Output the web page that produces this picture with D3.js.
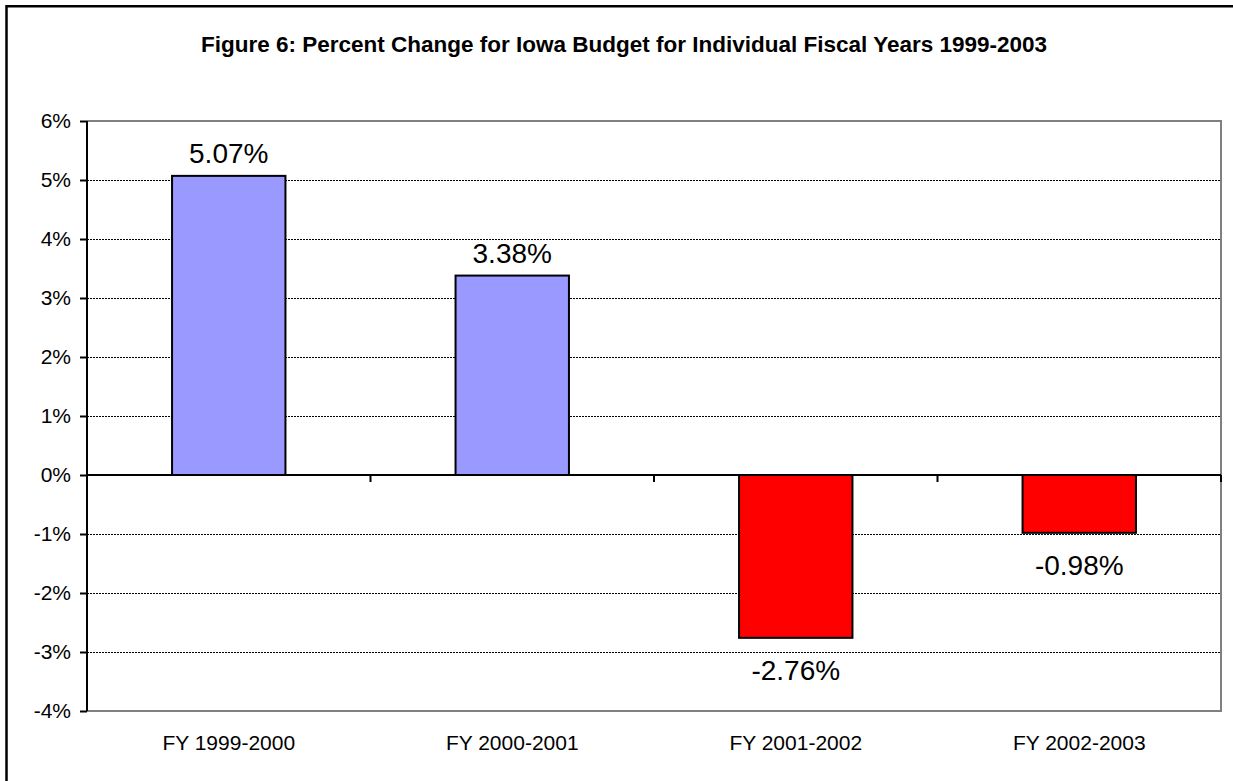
<!DOCTYPE html>
<html>
<head>
<meta charset="utf-8">
<script src="https://cdn.jsdelivr.net/npm/d3@7"></script>
<style>
  html, body { margin: 0; padding: 0; background: #fff; overflow: hidden; }
  svg { display: block; }
  text { font-family: "Liberation Sans", Arial, sans-serif; fill: #000; }
</style>
</head>
<body>
<svg id="chart" width="1233" height="781"></svg>
<script>
// Fiscal-year budget change, in percent
const categories = ["FY 1999-2000", "FY 2000-2001", "FY 2001-2002", "FY 2002-2003"];
const percentChange = [5.07, 3.38, -2.76, -0.98];
const yTicks = [-4, -3, -2, -1, 0, 1, 2, 3, 4, 5, 6];
const titleText = "Figure 6: Percent Change for Iowa Budget for Individual Fiscal Years 1999-2003";

const svg = d3.select("#chart");
const plot = { left: 87, right: 1221, top: 121, bottom: 711 };

// outer frame: only its left and top edges fall inside the page
svg.append("path")
  .attr("d", "M6.5,781V6.25H1233")
  .attr("fill", "none").attr("stroke", "#000").attr("stroke-width", 2.5);

svg.append("text")
  .attr("x", 624).attr("y", 52)
  .attr("text-anchor", "middle")
  .style("font-weight", "bold").style("font-size", "22.5px")
  .text(titleText);

const x = d3.scaleBand().domain(categories).range([plot.left, plot.right]).paddingInner(0.6).paddingOuter(0.3);
const xEdges = d3.scaleLinear().domain([0, categories.length]).range([plot.left, plot.right]);
const y = d3.scaleLinear().domain([d3.min(yTicks), d3.max(yTicks)]).range([plot.bottom, plot.top]);

// dashed gridlines
svg.append("g").selectAll("line")
  .data(yTicks.filter(t => t !== 0 && t !== d3.min(yTicks) && t !== d3.max(yTicks)))
  .join("line")
  .attr("x1", plot.left).attr("x2", plot.right)
  .attr("y1", d => y(d) + 0.5).attr("y2", d => y(d) + 0.5)
  .attr("stroke", "#000").attr("stroke-width", 1).attr("stroke-dasharray", "2,1");

// plot border (top, right, bottom)
svg.append("path")
  .attr("d", `M${plot.left},${y(6)}H${plot.right}V${y(-4)}H${plot.left}`)
  .attr("fill", "none").attr("stroke", "#808080").attr("stroke-width", 2);

// bars
svg.append("g").selectAll("rect")
  .data(categories.map((c, i) => ({ c, v: percentChange[i] })))
  .join("rect")
  .attr("x", d => x(d.c))
  .attr("width", x.bandwidth())
  .attr("y", d => y(Math.max(0, d.v)))
  .attr("height", d => Math.abs(y(d.v) - y(0)))
  .attr("fill", d => d.v >= 0 ? "#9999FF" : "#FF0000")
  .attr("stroke", "#000").attr("stroke-width", 2);

// zero line with category separators
svg.append("line")
  .attr("x1", plot.left).attr("x2", plot.right)
  .attr("y1", y(0)).attr("y2", y(0))
  .attr("stroke", "#000").attr("stroke-width", 2);
svg.append("g").selectAll("line")
  .data(d3.range(1, categories.length + 1))
  .join("line")
  .attr("x1", d => xEdges(d)).attr("x2", d => xEdges(d))
  .attr("y1", y(0)).attr("y2", y(0) + 7)
  .attr("stroke", "#000").attr("stroke-width", 2);

// y axis
const yAxis = d3.axisLeft(y).tickValues(yTicks).tickSize(7).tickPadding(9)
  .tickFormat(d => d + "%");
const gy = svg.append("g").attr("transform", `translate(${plot.left},0)`).call(yAxis);
gy.select(".domain").attr("stroke", "#000").attr("stroke-width", 2)
  .attr("d", `M0,${plot.top}V${plot.bottom}`);
gy.selectAll(".tick line").attr("stroke", "#000").attr("stroke-width", 2);
gy.selectAll(".tick text")
  .style("font-family", "'Liberation Sans', Arial, sans-serif")
  .style("font-size", "21px").attr("fill", "#000");

// category labels
const xAxis = d3.axisBottom(x).tickSize(0).tickPadding(24);
const gx = svg.append("g").attr("transform", `translate(0,${plot.bottom})`).call(xAxis);
gx.select(".domain").remove();
gx.selectAll(".tick text")
  .style("font-family", "'Liberation Sans', Arial, sans-serif")
  .style("font-size", "21px").attr("fill", "#000");

// value labels
svg.append("g").selectAll("text")
  .data(categories.map((c, i) => ({ c, v: percentChange[i] })))
  .join("text")
  .attr("x", d => x(d.c) + x.bandwidth() / 2)
  .attr("y", d => d.v >= 0 ? y(d.v) - 13 : y(d.v) + 42)
  .attr("text-anchor", "middle")
  .style("font-size", "28px")
  .text(d => d.v.toFixed(2) + "%");
</script>
</body>
</html>
